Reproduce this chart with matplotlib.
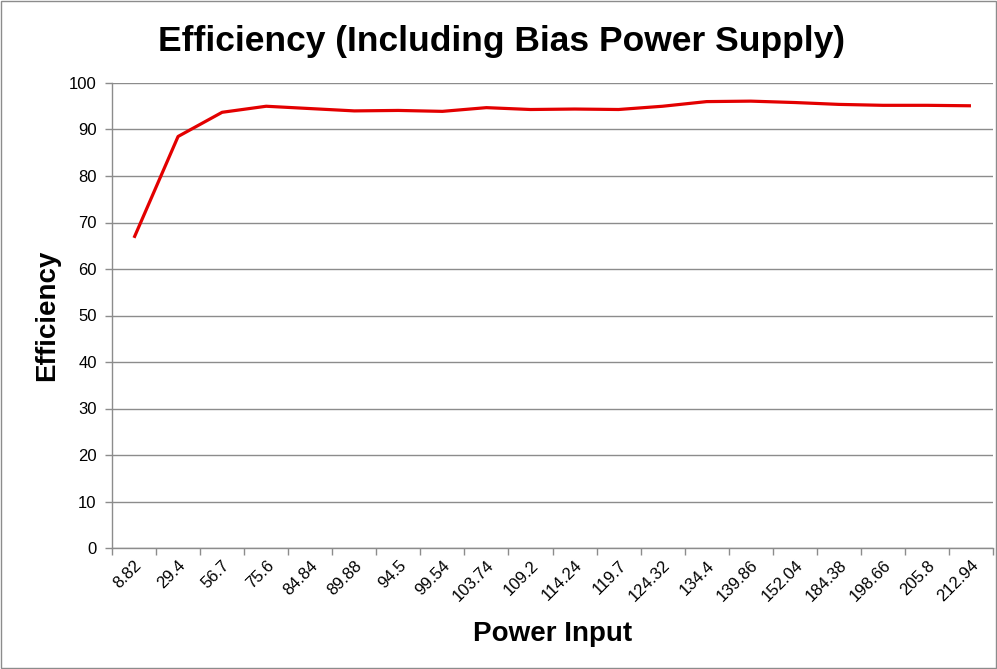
import numpy as np
import matplotlib.pyplot as plt
from matplotlib.ticker import FixedLocator, NullFormatter

plt.rcParams['font.family'] = ['Liberation Sans', 'DejaVu Sans']

# data
power_input = ['8.82', '29.4', '56.7', '75.6', '84.84', '89.88', '94.5', '99.54',
               '103.74', '109.2', '114.24', '119.7', '124.32', '134.4', '139.86',
               '152.04', '184.38', '198.66', '205.8', '212.94']
efficiency = [66.7, 88.5, 93.7, 95.0, 94.5, 94.0, 94.1, 93.9, 94.7, 94.3,
              94.4, 94.3, 95.0, 96.0, 96.1, 95.8, 95.4, 95.2, 95.2, 95.1]

fig = plt.figure(figsize=(9.97, 6.69), dpi=100)
ax = fig.add_axes([112 / 997, 1 - 548 / 669, (993 - 112) / 997, (548 - 83) / 669])

x = np.arange(len(power_input))
ax.plot(x, efficiency, color='#e30000', lw=2.3, solid_capstyle='butt')

ax.set_xlim(-0.5, len(power_input) - 0.5)
ax.set_ylim(0, 100)
ax.set_yticks(np.arange(0, 101, 10))
ax.yaxis.grid(True, color='#8c8c8c', lw=1)
ax.set_axisbelow(True)

ax.set_xticks(x)
ax.set_xticklabels(power_input, rotation=45, ha='right', rotation_mode='anchor', fontsize=12)
ax.tick_params(axis='x', which='major', length=0, pad=7)
ax.xaxis.set_minor_locator(FixedLocator(np.arange(-0.5, len(power_input), 1)))
ax.xaxis.set_minor_formatter(NullFormatter())
ax.tick_params(axis='x', which='minor', length=5, color='#8c8c8c', width=1)
ax.tick_params(axis='y', length=5, color='#8c8c8c', width=1, labelsize=12, pad=6)

for s in ['top', 'right']:
    ax.spines[s].set_visible(False)
for s in ['left', 'bottom']:
    ax.spines[s].set_color('#8c8c8c')
    ax.spines[s].set_linewidth(1)

ax.set_xlabel('Power Input', fontsize=20, fontweight='bold')
ax.xaxis.set_label_coords(0.5, -(634 - 548) / 465, transform=ax.transAxes)
ax.xaxis.label.set_va('center')
ax.set_ylabel('Efficiency', fontsize=20, fontweight='bold')
ax.yaxis.set_label_coords(-(112 - 47) / 881, 0.5)
ax.yaxis.label.set_va('center')
fig.text(0.503, 1 - 42 / 669, 'Efficiency (Including Bias Power Supply)', ha='center', va='center',
         fontsize=25.5, fontweight='bold')

# light frame around the chart
fig.patches.append(plt.Rectangle((0.001, 0.001), 0.998, 0.998, transform=fig.transFigure,
                                 fill=False, edgecolor='#8c8c8c', lw=1))

fig.savefig('out.png', dpi=100)
